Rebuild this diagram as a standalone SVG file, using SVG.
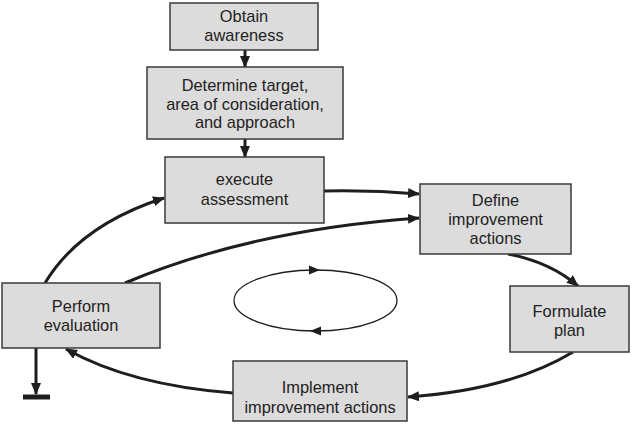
<svg xmlns="http://www.w3.org/2000/svg" width="632" height="432" viewBox="0 0 632 432">
<defs>
<style>
.box{fill:#dcdcdc;stroke:#3a3a3a;stroke-width:1.5}
.t{font-family:"Liberation Sans",Arial,sans-serif;font-size:16.4px;fill:#222;text-anchor:middle}
.c{fill:none;stroke:#1e1e1e;stroke-width:3}
.e{fill:none;stroke:#1e1e1e;stroke-width:1.3}
</style>
<marker id="ah" markerUnits="userSpaceOnUse" markerWidth="12" markerHeight="10" refX="11" refY="5" orient="auto">
<path d="M0,0 L12,5 L0,10 z" fill="#1e1e1e"/>
</marker>
</defs>
<rect width="632" height="432" fill="#fff"/>
<g id="connectors">
<path class="c" d="M245,50 L245,67" marker-end="url(#ah)"/>
<path class="c" d="M245,139 L245,157" marker-end="url(#ah)"/>
<path class="c" d="M324,191 Q372,190 419,194" marker-end="url(#ah)"/>
<path class="c" d="M125,283 Q250,230 419,218" marker-end="url(#ah)"/>
<path class="c" d="M45,283 Q80,225 164,198" marker-end="url(#ah)"/>
<path class="c" d="M508,254 Q550,262 578,286" marker-end="url(#ah)"/>
<path class="c" d="M573,352 Q510,390 408,397" marker-end="url(#ah)"/>
<path class="c" d="M233,393 Q130,385 66,349" marker-end="url(#ah)"/>
<path class="c" d="M36,348 L36,394" marker-end="url(#ah)"/>
<rect x="23" y="394.5" width="27" height="5" fill="#1e1e1e"/>
<ellipse class="e" cx="315.5" cy="300.5" rx="81.5" ry="30.5"/>
<path d="M309,265.5 L320,270 L309,274.5 z" fill="#1e1e1e"/>
<path d="M321,326.5 L310,331 L321,335.5 z" fill="#1e1e1e"/>
</g>
<g id="obtain">
<rect class="box" x="170" y="3" width="148" height="47"/>
<text class="t" x="244" y="22">Obtain</text>
<text class="t" x="244" y="41">awareness</text>
</g>
<g id="determine">
<rect class="box" x="147" y="67" width="196" height="72"/>
<text class="t" x="245" y="91">Determine target,</text>
<text class="t" x="245" y="110">area of consideration,</text>
<text class="t" x="245" y="128">and approach</text>
</g>
<g id="execute">
<rect class="box" x="165" y="157" width="159" height="66"/>
<text class="t" x="244.5" y="185">execute</text>
<text class="t" x="244.5" y="205">assessment</text>
</g>
<g id="define">
<rect class="box" x="420" y="184" width="151" height="70"/>
<text class="t" x="495.5" y="206">Define</text>
<text class="t" x="495.5" y="225">improvement</text>
<text class="t" x="495.5" y="244">actions</text>
</g>
<g id="formulate">
<rect class="box" x="510" y="286" width="119" height="66"/>
<text class="t" x="569.5" y="317">Formulate</text>
<text class="t" x="569.5" y="336">plan</text>
</g>
<g id="implement">
<rect class="box" x="233" y="361" width="174" height="60"/>
<text class="t" x="320" y="393">Implement</text>
<text class="t" x="320" y="413">improvement actions</text>
</g>
<g id="perform">
<rect class="box" x="2" y="283" width="158" height="65"/>
<text class="t" x="81" y="312">Perform</text>
<text class="t" x="81" y="331">evaluation</text>
</g>
</svg>
